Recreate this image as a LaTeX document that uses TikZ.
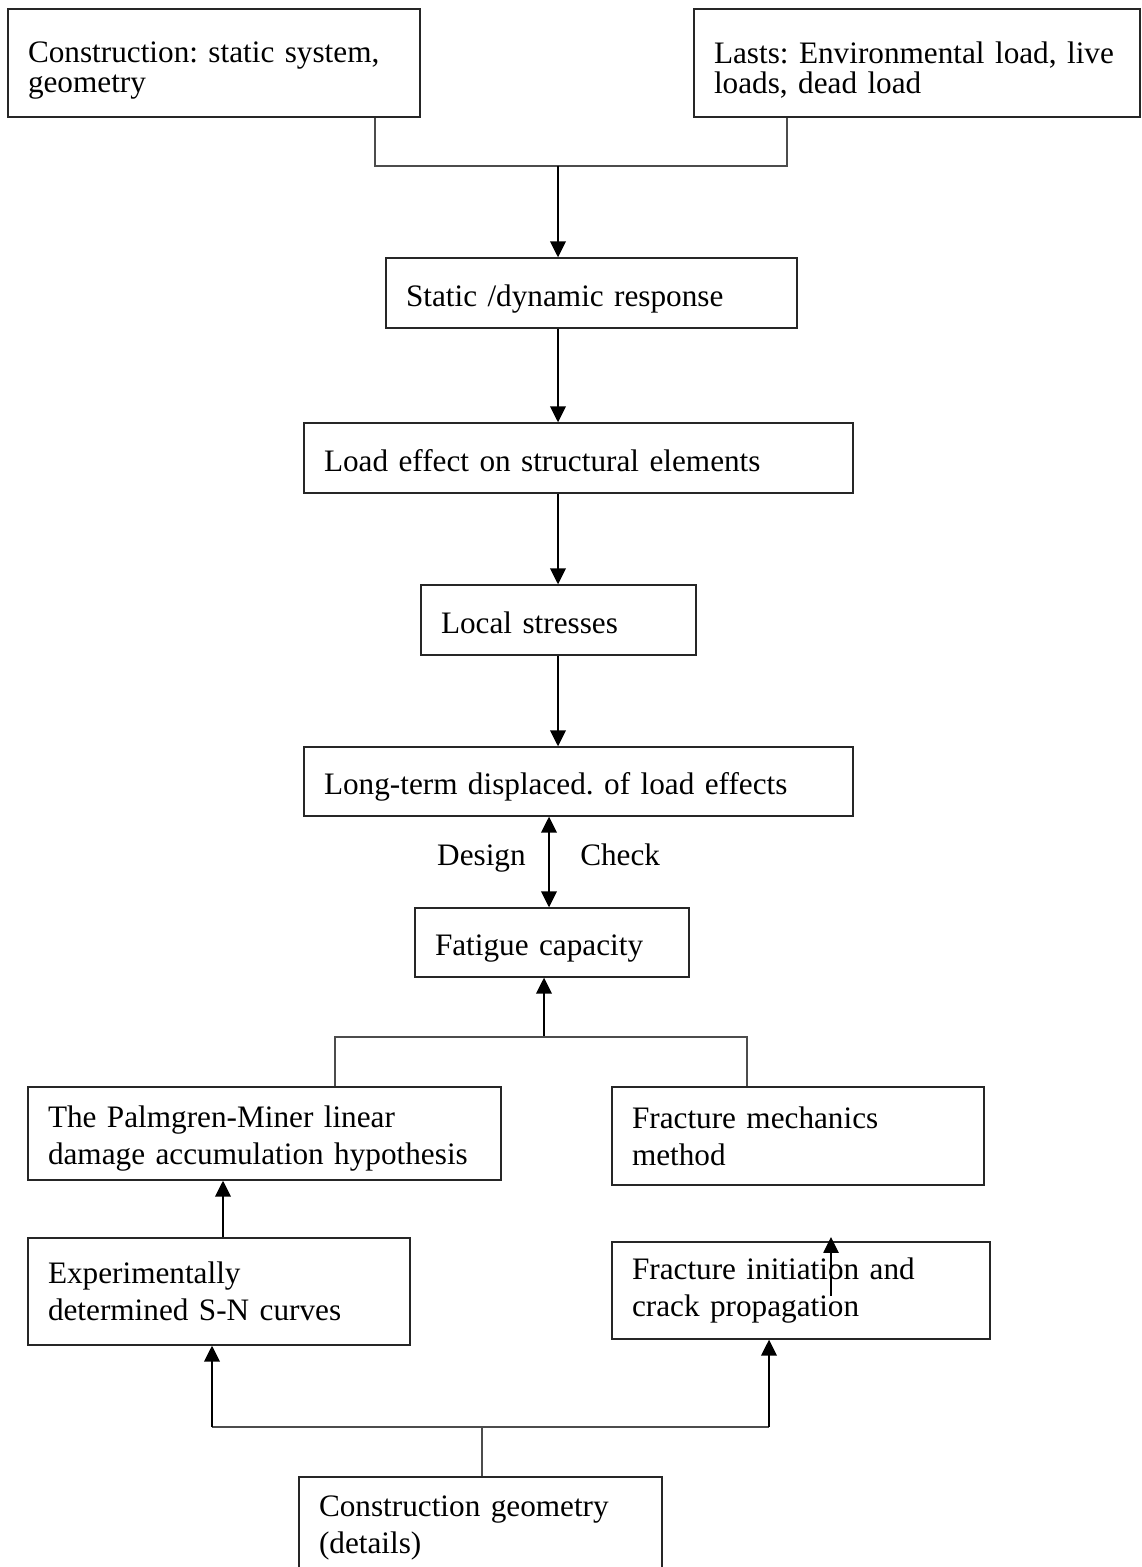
\documentclass[tikz,border=0pt]{standalone}
\usepackage{fontspec}
\setmainfont{Liberation Serif}
\usetikzlibrary{arrows.meta}
\frenchspacing
\newlength{\pxu}
\setlength{\pxu}{0.3762pt}
\tikzstyle{fBox} = [rectangle, draw=black!85, line width=0.5pt, inner xsep=20\pxu, inner ysep=0pt, align=left, font=\fontsize{11.75}{13.8}\selectfont]
\tikzstyle{fTop} = [fBox, minimum height=108\pxu, font=\fontsize{11.75}{11}\selectfont, text height=13.4pt]
\tikzstyle{fOne} = [fBox, text height=10pt, text depth=0pt]
\tikzstyle{fLabel} = [font=\fontsize{11.75}{13.8}\selectfont, text height=8pt, text depth=2.5pt]
\tikzstyle{fArrow} = [line width=0.85pt, -{Triangle[length=6pt, width=5.8pt]}]
\tikzstyle{fLine} = [draw=black!70, line width=0.45pt]

\begin{document}
\begin{tikzpicture}[x=0.3762pt, y=-0.3762pt]
    \useasboundingbox (0,0) rectangle (1141,1567);

    \node (constr) [fTop, minimum width=412\pxu, text width=372\pxu] at (214,63) {Construction: static system,\\geometry};
    \node (lasts) [fTop, minimum width=446\pxu, text width=406\pxu] at (917,63) {Lasts: Environmental load, live\\loads, dead load};
    \node (static) [fOne, minimum width=411\pxu, minimum height=70\pxu, text width=371\pxu] at (591.5,293) {Static /dynamic response};
    \node (load) [fOne, minimum width=549\pxu, minimum height=70\pxu, text width=509\pxu] at (578.5,458) {Load effect on structural elements};
    \node (local) [fOne, minimum width=275\pxu, minimum height=70\pxu, text width=235\pxu] at (558.5,620) {Local stresses};
    \node (longterm) [fOne, minimum width=549\pxu, minimum height=69\pxu, text width=509\pxu] at (578.5,781.5) {Long-term displaced. of load effects};
    \node (fatigue) [fOne, minimum width=274\pxu, minimum height=69\pxu, text width=234\pxu] at (552,942.5) {Fatigue capacity};
    \node (palmgren) [fBox, minimum width=473\pxu, minimum height=93\pxu, text width=433\pxu, text height=11.9pt] at (264.5,1133.5) {The Palmgren-Miner linear\\damage accumulation hypothesis};
    \node (fracmech) [fBox, minimum width=372\pxu, minimum height=98\pxu, text width=332\pxu] at (798,1136) {Fracture mechanics\\method};
    \node (experim) [fBox, minimum width=382\pxu, minimum height=107\pxu, text width=342\pxu] at (219,1291.5) {Experimentally\\determined S-N curves};
    \node (fracinit) [fBox, minimum width=378\pxu, minimum height=97\pxu, text width=338\pxu] at (801,1290.5) {Fracture initiation and\\crack propagation};
    \node (constrgeo) [fBox, minimum width=363\pxu, minimum height=102\pxu, text width=323\pxu] at (480.5,1528) {Construction geometry\\(details)};

    \coordinate (jConstr) at (375,166);
    \coordinate (jLasts) at (787,166);
    \coordinate (spine) at (558,166);
    \coordinate (twoWay) at (549,862);
    \coordinate (capUp) at (544,1037);
    \coordinate (jPalm) at (335,1037);
    \coordinate (jFrac) at (747,1037);
    \coordinate (snUp) at (223,1210);
    \coordinate (oddTail) at (831,1296);
    \coordinate (oddTip) at (831,1237);
    \coordinate (jBase) at (482,1427);
    \coordinate (jExp) at (212,1427);
    \coordinate (jInit) at (769,1427);

    \draw [fLine] (constr.south -| jConstr) -- (jConstr) -- (jLasts) -- (lasts.south -| jLasts);
    \draw [fArrow] (spine) -- (static.north -| spine);
    \draw [fArrow] (static.south -| spine) -- (load.north -| spine);
    \draw [fArrow] (load.south -| spine) -- (local.north -| spine);
    \draw [fArrow] (local.south -| spine) -- (longterm.north -| spine);
    \draw [fArrow, {Triangle[length=6pt, width=5.8pt]}-{Triangle[length=6pt, width=5.8pt]}] (longterm.south -| twoWay) -- node[fLabel, anchor=east, xshift=-5pt, yshift=1.6pt] {Design} node[fLabel, anchor=west, xshift=8pt, yshift=1.6pt] {Check} (fatigue.north -| twoWay);
    \draw [fArrow] (capUp) -- (fatigue.south -| capUp);
    \draw [fLine] (palmgren.north -| jPalm) -- (jPalm) -- (jFrac) -- (fracmech.north -| jFrac);
    \draw [fArrow] (experim.north -| snUp) -- (palmgren.south -| snUp);
    \draw [fArrow, line width=0.45pt] (oddTail) -- (oddTip);
    \draw [fLine] (constrgeo.north -| jBase) -- (jBase);
    \draw [fLine] (jExp) -- (jInit);
    \draw [fArrow] (jExp) -- (experim.south -| jExp);
    \draw [fArrow] (jInit) -- (fracinit.south -| jInit);
\end{tikzpicture}
\end{document}
